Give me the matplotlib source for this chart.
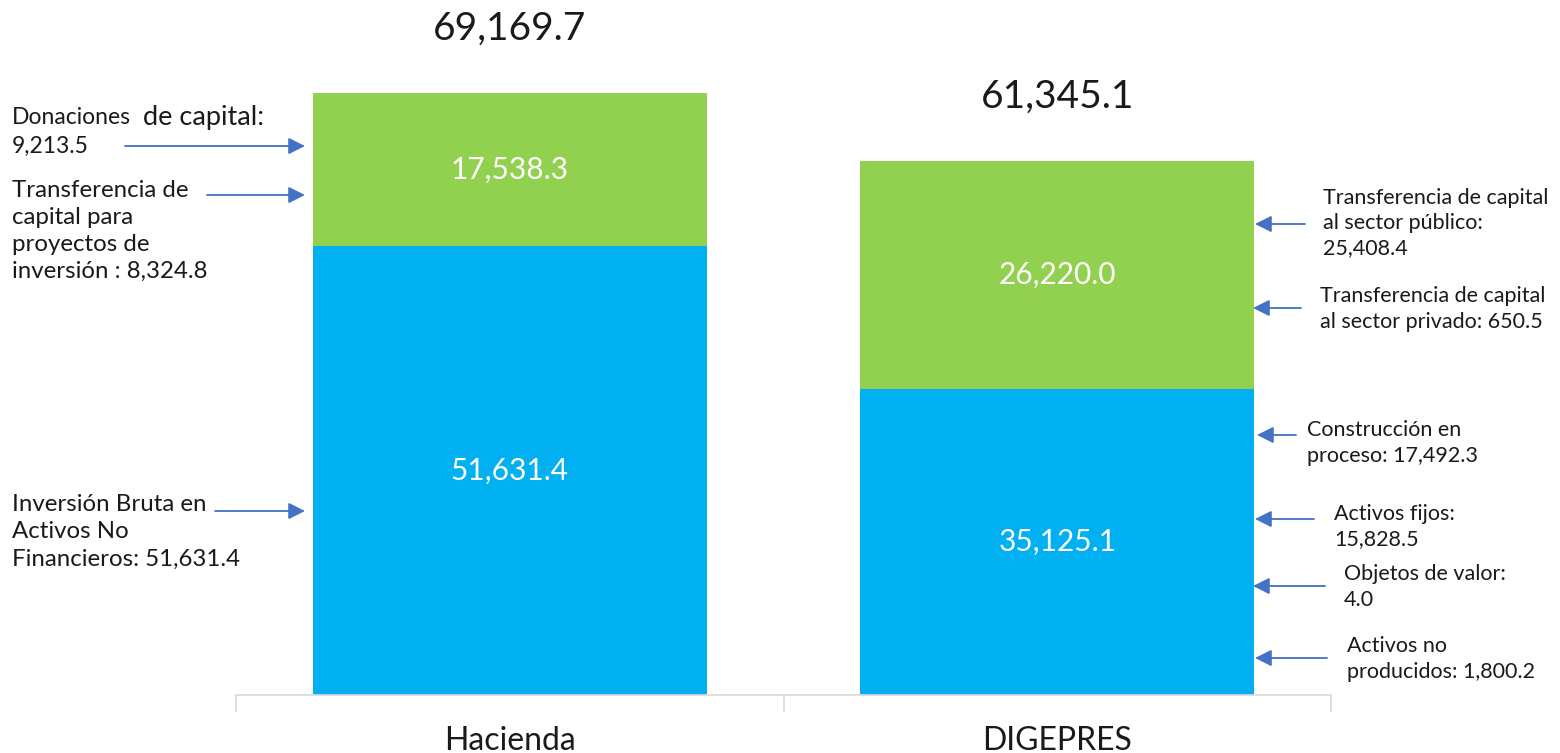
import numpy as np
import matplotlib
matplotlib.use("Agg")
from matplotlib import pyplot as plt

plt.rcParams['font.family'] = ['Lato', 'DejaVu Sans']

# data
categories = ['Hacienda', 'DIGEPRES']
blue_vals = [51631.4, 35125.1]
green_vals = [17538.3, 26220.0]
totals = [69169.7, 61345.1]

left_notes = ['Transferencia de\ncapital para\nproyectos de\ninversión : 8,324.8',
              'Inversión Bruta en\nActivos No\nFinancieros: 51,631.4']
right_notes = ['Transferencia de capital\nal sector público:\n25,408.4',
               'Transferencia de capital\nal sector privado: 650.5',
               'Construcción en\nproceso: 17,492.3',
               'Activos fijos:\n15,828.5',
               'Objetos de valor:\n4.0',
               'Activos no\nproducidos: 1,800.2']

BLUE = '#00B0F0'
GREEN = '#92D050'
ARROW = '#4472C4'
TXT = '#1a1a1a'

W, H = 1560, 753
fig = plt.figure(figsize=(W / 100, H / 100), dpi=100)

def fx(x):
    return x / W

def fy(y):
    return 1 - y / H

# axes: bottom at y=695, x from 236 to 1331
scale = totals[0] / (695 - 93)
ax = fig.add_axes([fx(236), fy(695), fx(1331) - fx(236), (695 - 5) / H])
ax.set_xlim(-0.5, 1.5)
ax.set_ylim(0, (695 - 5) * scale)

x = np.arange(len(categories))
b1 = ax.bar(x, blue_vals, width=0.72, color=BLUE)
b2 = ax.bar(x, green_vals, width=0.72, bottom=blue_vals, color=GREEN)
ax.bar_label(b1, labels=[f'{v:,.1f}' for v in blue_vals], label_type='center',
             color='white', fontsize=21.5)
ax.bar_label(b2, labels=[f'{v:,.1f}' for v in green_vals], label_type='center',
             color='white', fontsize=21.5)
for xi, t in zip(x, totals):
    ax.annotate(f'{t:,.1f}', (xi, t), xytext=(0, 46), textcoords='offset points',
                ha='center', va='center', fontsize=28, color=TXT)

for s in ['top', 'right', 'left']:
    ax.spines[s].set_visible(False)
ax.spines['bottom'].set_color('#d9d9d9')
ax.spines['bottom'].set_linewidth(1.2)
ax.set_yticks([])
ax.set_xticks([-0.5, 0.5, 1.5], minor=True)
ax.set_xticks(x)
ax.set_xticklabels(categories, fontsize=23, color=TXT)
ax.tick_params(axis='x', which='major', length=0, pad=22)
ax.tick_params(axis='x', which='minor', length=12, color='#d9d9d9', width=1.2)

def arrow(head, tail, y):
    fig.add_artist(matplotlib.patches.FancyArrowPatch(
        (fx(tail), fy(y)), (fx(head), fy(y)), transform=fig.transFigure,
        arrowstyle='-|>,head_length=10,head_width=5', color=ARROW, lw=1.3,
        mutation_scale=1, shrinkA=0, shrinkB=0))

# left notes
fig.text(fx(12), fy(118), 'Donaciones', ha='left', va='center', fontsize=16.5, color=TXT)
fig.text(fx(143), fy(118), 'de capital:', ha='left', va='center', fontsize=19.5, color=TXT)
fig.text(fx(12), fy(146), '9,213.5', ha='left', va='center', fontsize=16.5, color=TXT)
left_pos = [(12, 231), (12, 532)]
for (lx, ly), txt in zip(left_pos, left_notes):
    fig.text(fx(lx), fy(ly), txt, ha='left', va='center', fontsize=17.3,
             linespacing=1.36, color=TXT)
arrow(305, 125, 146)
arrow(305, 207, 195)
arrow(305, 215, 511)

right_pos = [(1323, 223), (1320, 309), (1307, 443), (1334, 527), (1344, 587), (1347, 659)]
for (rx, ry), txt in zip(right_pos, right_notes):
    fig.text(fx(rx), fy(ry), txt, ha='left', va='center', fontsize=15.5,
             linespacing=1.32, color=TXT)
arrow(1255, 1305, 224)
arrow(1253, 1301, 308)
arrow(1257, 1296, 435)
arrow(1255, 1314, 519)
arrow(1253, 1325, 586)
arrow(1255, 1327, 658)

fig.savefig('out.png', dpi=100)
